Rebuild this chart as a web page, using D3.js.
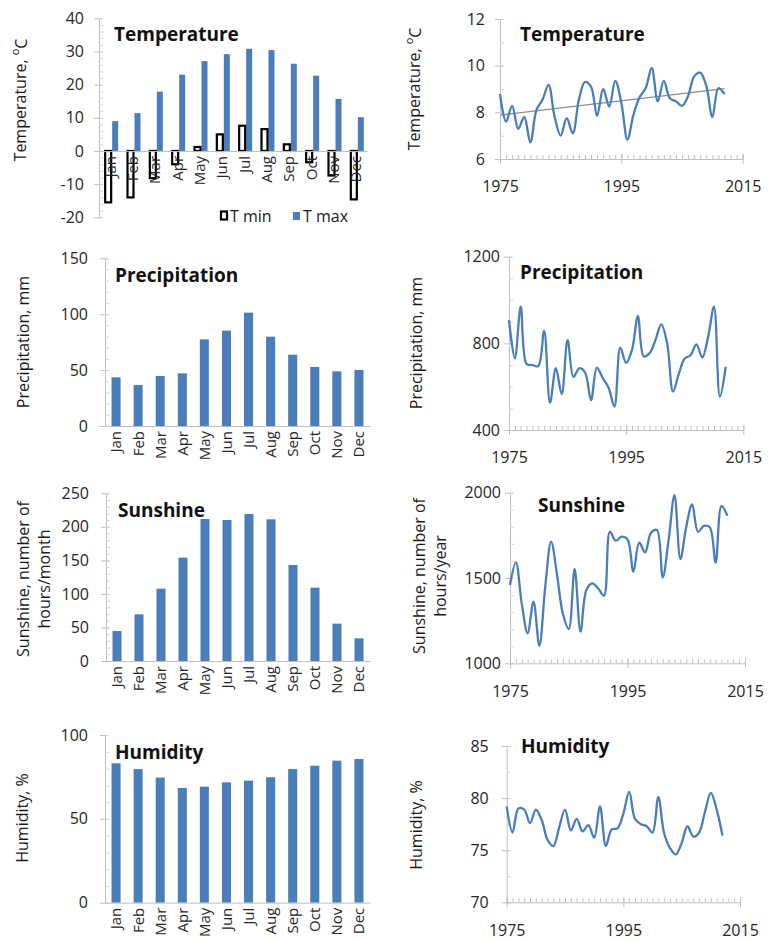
<!DOCTYPE html>
<html>
<head>
<meta charset="utf-8">
<script src="https://cdn.jsdelivr.net/npm/d3@7"></script>
<style>
  body { margin: 0; background: #fff; }
  svg { font-family: "Open Sans", sans-serif; }
</style>
</head>
<body>
<svg id="chart" width="775" height="941"></svg>
<script>
// Monthly climate normals
var months = ["Jan", "Feb", "Mar", "Apr", "May", "Jun", "Jul", "Aug", "Sep", "Oct", "Nov", "Dec"];
var tMin = [-15.5, -14, -8.2, -4.0, 1.2, 5.0, 7.6, 6.6, 2.0, -3.4, -7.4, -14.6];
var tMax = [9.0, 11.4, 17.9, 23.0, 27.1, 29.2, 30.8, 30.4, 26.3, 22.7, 15.7, 10.2];
var precipMonthly = [43.5, 36.7, 44.7, 47.1, 77.5, 85.3, 101.4, 79.9, 63.8, 52.8, 48.9, 50.1];
var sunMonthly = [44.7, 69.6, 107.9, 154.1, 211.7, 210.2, 219.2, 211.2, 143.1, 109.3, 55.7, 33.8];
var humMonthly = [83.1, 79.7, 74.6, 68.4, 69.2, 71.8, 72.8, 74.8, 79.7, 81.7, 84.7, 85.7];

// Annual series
var years = [1975, 1976, 1977, 1978, 1979, 1980, 1981, 1982, 1983, 1984,
  1985, 1986, 1987, 1988, 1989, 1990, 1991, 1992, 1993, 1994,
  1995, 1996, 1997, 1998, 1999, 2000, 2001, 2002, 2003, 2004,
  2005, 2006, 2007, 2008, 2009, 2010, 2011, 2012];
var tempAnnual = [8.78, 7.6, 8.28, 7.29, 7.8, 6.71, 8.1, 8.54, 9.18, 7.8,
  7.0, 7.75, 7.1, 8.54, 9.3, 9.1, 7.85, 9.0, 8.25, 9.35,
  8.4, 6.83, 7.9, 8.65, 9.03, 9.9, 8.47, 9.35, 8.6, 8.47,
  8.28, 8.7, 9.54, 9.7, 9.13, 7.8, 9.04, 8.78];
var trendYears = [1975, 2012];
var trendTemp = [7.88, 9.02];
var precipAnnual = [907, 731, 969, 705, 700, 695, 858, 526, 685, 566,
  815, 645, 685, 665, 538, 688, 640, 595, 508, 780,
  710, 770, 926, 740, 755, 815, 888, 800, 577, 660,
  730, 745, 795, 735, 831, 969, 554, 692];
var sunAnnual = [1459, 1592, 1350, 1176, 1361, 1102, 1450, 1713, 1520, 1290,
  1201, 1553, 1186, 1430, 1469, 1440, 1396, 1771, 1719, 1742,
  1727, 1537, 1707, 1650, 1765, 1781, 1504, 1723, 1986, 1611,
  1800, 1932, 1771, 1805, 1797, 1590, 1922, 1865];
var humAnnual = [79.2, 76.7, 79.0, 78.9, 77.6, 78.9, 77.9, 76.0, 75.4, 77.2,
  78.9, 76.9, 78.0, 76.8, 77.4, 76.2, 79.2, 75.4, 77.0, 77.1,
  78.5, 80.6, 78.0, 77.5, 77.3, 76.7, 80.1, 76.6, 75.2, 74.6,
  75.7, 77.3, 76.3, 76.7, 78.7, 80.5, 78.9, 76.4];

// Tick values
var yearTicks = [1975, 1995, 2015];
var tempTicks = [-20, -10, 0, 10, 20, 30, 40];
var precipTicks = [0, 50, 100, 150];
var sunTicks = [0, 50, 100, 150, 200, 250];
var humTicks = [0, 50, 100];
var tempAnnTicks = [6, 8, 10, 12];
var precipAnnTicks = [400, 800, 1200];
var sunAnnTicks = [1000, 1500, 2000];
var humAnnTicks = [70, 75, 80, 85];

var BLUE = "#4a7ebb";
var AXIS = "#bfbfbf";
var svg = d3.select("#chart");

// left value axis with major labelled ticks and minor inner ticks
function drawYAxis(g, y, x0, major, minorStep, gap) {
  var ax = g.append("g")
    .attr("transform", `translate(${x0},0)`)
    .call(d3.axisLeft(y).tickValues(major).tickSize(5).tickSizeOuter(0).tickPadding(gap - 5).tickFormat(d => String(d)));
  ax.select(".domain").attr("stroke", AXIS);
  ax.selectAll(".tick line").attr("stroke", AXIS).attr("x2", -5).attr("x1", 3);
  ax.selectAll(".tick text").attr("font-size", 16).attr("fill", "#262626").attr("font-family", "Open Sans");
  var d = y.domain();
  var minor = [];
  for (var v = d[0]; v <= d[1] + 1e-9; v += minorStep) minor.push(v);
  var mn = g.append("g")
    .attr("transform", `translate(${x0},0)`)
    .call(d3.axisRight(y).tickValues(minor).tickSize(4).tickFormat(""));
  mn.select(".domain").remove();
  mn.selectAll(".tick line").attr("stroke", "#d4d4d4");
}

// rotated axis title; a line is either a string or {text, sup, after}
function yTitle(g, lines, x, yc) {
  var t = g.append("text")
    .attr("transform", `translate(${x},${yc}) rotate(-90)`)
    .attr("text-anchor", "middle")
    .attr("font-size", 16)
    .attr("fill", "#1a1a1a");
  lines.forEach(function(line, i) {
    var ts = t.append("tspan").attr("x", 0).attr("dy", i === 0 ? 0 : "1.3em");
    if (typeof line === "object") {
      ts.text(line.text);
      t.append("tspan").attr("font-size", 11).attr("dy", "-0.6em").text(line.sup);
      t.append("tspan").attr("dy", "0.45em").text(line.after);
    } else {
      ts.text(line);
    }
  });
}

function title(g, text, x, y) {
  g.append("text").attr("x", x).attr("y", y)
    .attr("font-size", 19).attr("font-weight", "bold").attr("fill", "#111")
    .text(text);
}

function monthLabels(g, x, yPos) {
  var ax = g.append("g")
    .attr("transform", `translate(0,${yPos})`)
    .call(d3.axisBottom(x).tickSize(0).tickSizeOuter(0));
  ax.select(".domain").attr("stroke", AXIS);
  ax.selectAll(".tick text")
    .attr("transform", "rotate(-90)")
    .attr("text-anchor", "end")
    .attr("x", -5).attr("y", 0).attr("dy", "0.36em")
    .attr("font-size", 15).attr("fill", "#262626").attr("font-family", "Open Sans");
  return ax;
}

function barChart(opt) {
  var g = svg.append("g");
  var y = d3.scaleLinear().domain(opt.domain).range(opt.yRange);
  var x = d3.scaleBand().domain(months).range(opt.xRange).paddingInner(0.59).paddingOuter(0.295);
  drawYAxis(g, y, opt.xRange[0], opt.ticks, opt.minor, opt.gap);
  g.selectAll(".bar").data(opt.values).join("rect")
    .attr("x", (d, i) => x(months[i]))
    .attr("width", x.bandwidth())
    .attr("y", d => y(d))
    .attr("height", d => y(opt.domain[0]) - y(d))
    .attr("fill", BLUE);
  monthLabels(g, x, opt.yRange[0]);
  title(g, opt.title, opt.titleX, opt.titleY);
  yTitle(g, opt.yLabel, opt.yLabelX, opt.yLabelY);
}

function lineChart(opt) {
  var g = svg.append("g");
  var y = d3.scaleLinear().domain(opt.domain).range(opt.yRange);
  var x = d3.scaleLinear().domain([1975, 2015]).range(opt.xRange);
  drawYAxis(g, y, opt.xRange[0], opt.ticks, opt.minor, opt.gap);
  var y0 = opt.yRange[0];
  // x axis: yearly minor ticks and labelled majors
  var minorYears = [];
  for (var v = 1975; v <= 2015; v++) minorYears.push(v);
  var mx = g.append("g").attr("transform", `translate(0,${y0})`)
    .call(d3.axisTop(x).tickValues(minorYears).tickSize(4).tickFormat(""));
  mx.select(".domain").remove();
  mx.selectAll(".tick line").attr("stroke", AXIS);
  var ax = g.append("g").attr("transform", `translate(0,${y0})`)
    .call(d3.axisBottom(x).tickValues(yearTicks).tickSize(5).tickSizeOuter(0).tickPadding(17).tickFormat(d => String(d)));
  ax.select(".domain").attr("stroke", AXIS);
  ax.selectAll(".tick line").attr("stroke", AXIS).attr("y1", -5);
  ax.selectAll(".tick text").attr("font-size", 16).attr("fill", "#262626").attr("font-family", "Open Sans");

  if (opt.trend) {
    g.append("path")
      .datum(opt.trend.years.map((yr, i) => [yr, opt.trend.values[i]]))
      .attr("d", d3.line().x(d => x(d[0])).y(d => y(d[1])))
      .attr("stroke", "#8c8c8c").attr("stroke-width", 1.3).attr("fill", "none");
  }
  g.append("path")
    .datum(opt.values.map((v, i) => [years[i], v]))
    .attr("d", d3.line().x(d => x(d[0])).y(d => y(d[1])).curve(d3.curveCatmullRom.alpha(0.5)))
    .attr("stroke", BLUE).attr("stroke-width", 2.3).attr("fill", "none");
  title(g, opt.title, opt.titleX, opt.titleY);
  yTitle(g, opt.yLabel, opt.yLabelX, opt.yLabelY);
}

// ---- Temperature, monthly (T min / T max) ----
(function() {
  var g = svg.append("g");
  var y = d3.scaleLinear().domain([-20, 40]).range([217.3, 18.3]);
  var x = d3.scaleBand().domain(months).range([99, 367]);
  drawYAxis(g, y, 99, tempTicks, 2, 15);
  var c = m => x(m) + x.bandwidth() / 2;
  g.selectAll(".tmax").data(tMax).join("rect")
    .attr("x", (d, i) => c(months[i]) + 2)
    .attr("width", 6)
    .attr("y", d => y(d))
    .attr("height", d => y(0) - y(d))
    .attr("fill", BLUE);
  g.selectAll(".tmin").data(tMin).join("rect")
    .attr("x", (d, i) => c(months[i]) - 5)
    .attr("width", 6)
    .attr("y", d => y(Math.max(0, d)))
    .attr("height", d => Math.abs(y(d) - y(0)))
    .attr("fill", "none")
    .attr("stroke", "#000")
    .attr("stroke-width", 2.2);
  monthLabels(g, x, y(0));
  // legend
  g.append("rect").attr("x", 221).attr("y", 211.5).attr("width", 6).attr("height", 8)
    .attr("fill", "#fff").attr("stroke", "#000").attr("stroke-width", 2.2);
  g.append("text").attr("x", 230).attr("y", 221.5).attr("font-size", 16).attr("fill", "#1a1a1a").text("T min");
  g.append("rect").attr("x", 293).attr("y", 212).attr("width", 7).attr("height", 8).attr("fill", BLUE);
  g.append("text").attr("x", 303).attr("y", 221.5).attr("font-size", 16).attr("fill", "#1a1a1a").text("T max");
  title(g, "Temperature", 114, 41);
  yTitle(g, [{text: "Temperature, ", sup: "o", after: "C"}], 26, 100);
})();

lineChart({
  domain: [6, 12], yRange: [159, 19], xRange: [500, 742.7], ticks: tempAnnTicks, minor: 1, gap: 15,
  values: tempAnnual, trend: {years: trendYears, values: trendTemp},
  title: "Temperature", titleX: 520, titleY: 41,
  yLabel: [{text: "Temperature, ", sup: "o", after: "C"}], yLabelX: 420, yLabelY: 89
});

barChart({
  domain: [0, 150], yRange: [426, 258.3], xRange: [105, 370], ticks: precipTicks, minor: 10, gap: 17,
  values: precipMonthly, title: "Precipitation", titleX: 115, titleY: 282,
  yLabel: ["Precipitation, mm"], yLabelX: 29, yLabelY: 342
});

lineChart({
  domain: [400, 1200], yRange: [430, 256.7], xRange: [509, 743.3], ticks: precipAnnTicks, minor: 100, gap: 9,
  values: precipAnnual, title: "Precipitation", titleX: 520, titleY: 279,
  yLabel: ["Precipitation, mm"], yLabelX: 422, yLabelY: 343
});

barChart({
  domain: [0, 250], yRange: [661, 493.3], xRange: [106, 370], ticks: sunTicks, minor: 10, gap: 17,
  values: sunMonthly, title: "Sunshine", titleX: 118, titleY: 517,
  yLabel: ["Sunshine, number of", "hours/month"], yLabelX: 29, yLabelY: 579
});

lineChart({
  domain: [1000, 2000], yRange: [663.3, 492.7], xRange: [510, 745], ticks: sunAnnTicks, minor: 100, gap: 9,
  values: sunAnnual, title: "Sunshine", titleX: 538, titleY: 512,
  yLabel: ["Sunshine, number of", "hours/year"], yLabelX: 425, yLabelY: 576
});

barChart({
  domain: [0, 100], yRange: [902.7, 735], xRange: [105, 370], ticks: humTicks, minor: 10, gap: 17,
  values: humMonthly, title: "Humidity", titleX: 115, titleY: 759,
  yLabel: ["Humidity, %"], yLabelX: 28, yLabelY: 818
});

lineChart({
  domain: [70, 85], yRange: [902.3, 746], xRange: [506.7, 740], ticks: humAnnTicks, minor: 2.5, gap: 18,
  values: humAnnual, title: "Humidity", titleX: 521, titleY: 753,
  yLabel: ["Humidity, %"], yLabelX: 422, yLabelY: 825
});
</script>
</body>
</html>
